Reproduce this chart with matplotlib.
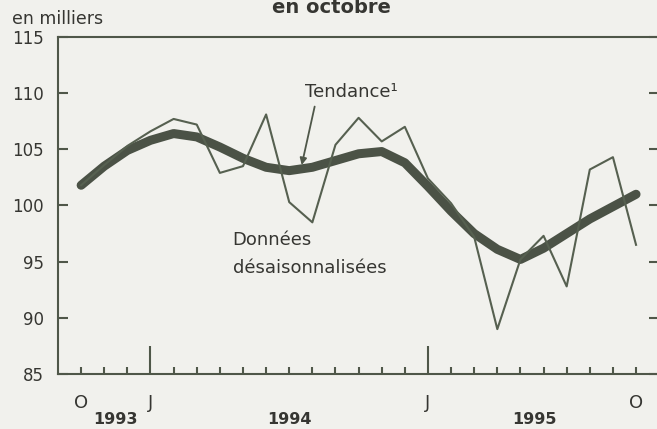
import matplotlib.pyplot as plt
from matplotlib.transforms import blended_transform_factory
import numpy as np

# Données mensuelles, octobre 1993 à octobre 1995 (en milliers)
mois = np.arange(25)  # 0 = oct. 1993
donnees = [101.8, 103.6, 105.3, 106.6, 107.7, 107.2, 102.9, 103.5, 108.1,
           100.3, 98.5, 105.4, 107.8, 105.7, 107.0, 102.4, 100.2, 97.2,
           89.0, 95.2, 97.3, 92.8, 103.2, 104.3, 96.5]
tendance = [101.8, 103.5, 104.9, 105.8, 106.4, 106.1, 105.2, 104.2, 103.4,
            103.1, 103.4, 104.0, 104.6, 104.8, 103.8, 101.7, 99.5, 97.5,
            96.1, 95.2, 96.2, 97.5, 98.8, 99.9, 101.0]
y_ticks = [85, 90, 95, 100, 105, 110, 115]
janvier = [3, 15]
annees = ['1993', '1994', '1995']
pos_annees = [1.5, 9.0, 19.6]

fond = '#f1f1ed'
trait = '#4f5749'
texte = '#363632'

plt.rcParams['font.family'] = 'DejaVu Sans'

fig = plt.figure(figsize=(6.57, 4.29), dpi=100, facecolor=fond)
ax = fig.add_axes([0.0883, 0.128, 0.915, 0.786])
ax.set_facecolor(fond)

ax.plot(mois, tendance, color='#4b5246', linewidth=6.5, solid_capstyle='round',
        solid_joinstyle='round', zorder=2)
ax.plot(mois, donnees, color='#566050', linewidth=1.5, zorder=3)

ax.set_xlim(-1, 25)
ax.set_ylim(85, 115)

for s in ax.spines.values():
    s.set_color(trait)
    s.set_linewidth(1.5)

# Axe des x : mois (petits traits) et janvier (grands traits)
autres = [m for m in mois if m not in janvier]
lab_min = ['O' if m in (0, 24) else '' for m in autres]
ax.set_xticks(janvier, ['J', 'J'])
ax.set_xticks(autres, lab_min, minor=True)
ax.tick_params(axis='x', which='major', direction='in', length=20, width=1.5,
               color=trait, pad=14, labelsize=13, labelcolor=texte)
ax.tick_params(axis='x', which='minor', direction='in', length=5, width=1.5,
               color=trait, pad=14, labelsize=13, labelcolor=texte)

ax.set_yticks(y_ticks)
ax.tick_params(axis='y', which='major', direction='in', length=7, width=1.5,
               color=trait, pad=10, labelsize=12, labelcolor=texte,
               left=True, right=True)

tr = blended_transform_factory(ax.transData, fig.transFigure)
for a, p in zip(annees, pos_annees):
    ax.text(p, 0.021, a, transform=tr, ha='center', va='center',
            fontsize=11.5, fontweight='bold', color=texte)

fig.text(0.018, 0.944, 'en milliers', fontsize=12.5, color=texte, va='baseline')
fig.text(0.505, 0.969, 'en octobre', fontsize=14, fontweight='bold', color=texte,
         ha='center', va='baseline')

ax.annotate('', xy=(9.54, 103.6), xytext=(10.1, 108.8),
            arrowprops=dict(arrowstyle='-|>', color=trait, lw=1.3,
                            mutation_scale=10, shrinkA=0, shrinkB=0))
ax.text(9.67, 110.1, 'Tendance¹', fontsize=13, color=texte, va='center')
ax.text(6.55, 96.9, 'Données', fontsize=13, color=texte, va='center')
ax.text(6.55, 94.45, 'désaisonnalisées', fontsize=13, color=texte, va='center')

plt.savefig('out.png', dpi=100, facecolor=fond)
